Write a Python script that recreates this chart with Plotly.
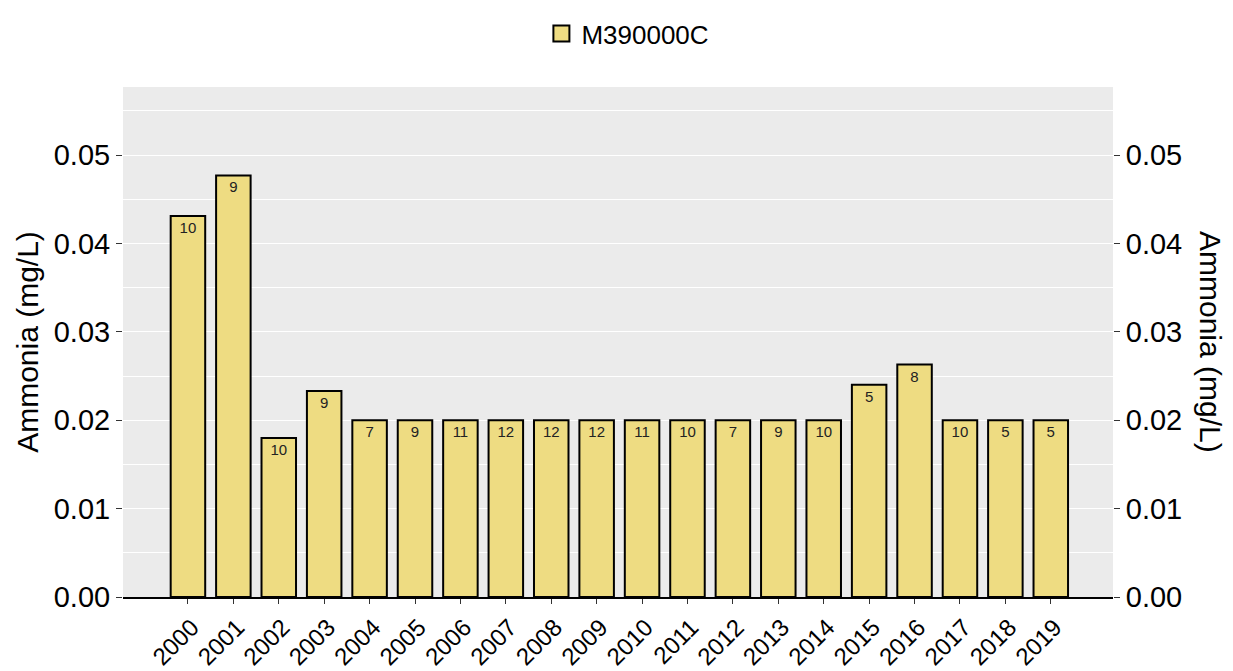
import plotly.graph_objects as go

years = [str(y) for y in range(2000, 2020)]
ammonia = [0.0431, 0.0477, 0.0180, 0.0233, 0.0200, 0.0200, 0.0200, 0.0200, 0.0200, 0.0200,
           0.0200, 0.0200, 0.0200, 0.0200, 0.0200, 0.0240, 0.0263, 0.0200, 0.0200, 0.0200]
counts = [10, 9, 10, 9, 7, 9, 11, 12, 12, 12, 11, 10, 7, 9, 10, 5, 8, 10, 5, 5]
series_name = "M390000C"
y_title = "Ammonia (mg/L)"
y_ticks = [0.0, 0.01, 0.02, 0.03, 0.04, 0.05]
y_ticklabels = ["0.00", "0.01", "0.02", "0.03", "0.04", "0.05"]

FONT = "Liberation Sans, Arial, sans-serif"
YMAX = 0.0577
BAR_COLOR = "#EEDC82"

fig = go.Figure()
fig.add_trace(go.Bar(
    x=years, y=ammonia, name=series_name, showlegend=False,
    marker=dict(color=BAR_COLOR, line=dict(color="black", width=2)),
    width=0.76,
    text=[str(c) for c in counts], textposition="inside", insidetextanchor="end",
    textangle=0, constraintext="none",
    textfont=dict(size=15, color="#222222", family=FONT),
    hoverinfo="x+y",
))
# legend entry with a larger square swatch
fig.add_trace(go.Scatter(
    x=[None], y=[None], name=series_name, mode="markers", showlegend=True,
    marker=dict(symbol="square", size=30, color=BAR_COLOR, line=dict(color="black", width=2)),
))
# invisible trace so that the right axis is drawn
fig.add_trace(go.Scatter(x=years, y=ammonia, yaxis="y2", showlegend=False,
                         mode="markers", marker=dict(opacity=0), hoverinfo="skip"))

fig.update_layout(
    width=1225, height=663,
    margin=dict(l=115, r=120, t=79, b=74, autoexpand=False),
    paper_bgcolor="white", plot_bgcolor="#EBEBEB",
    font=dict(family=FONT, color="black"),
    showlegend=True,
    legend=dict(orientation="h", x=0.51, xanchor="center", y=0.997, yanchor="top",
                yref="container", font=dict(size=26, family=FONT)),
    xaxis=dict(
        type="category", range=[-1.43, 20.37],
        tickangle=-45, tickfont=dict(size=24, family=FONT),
        ticks="outside", ticklen=5, tickcolor="#333333", tickwidth=1.2,
        ticklabelshift=4,
        showgrid=False, showline=True, linecolor="black", linewidth=1.5,
        zeroline=False,
    ),
    yaxis=dict(
        range=[0, YMAX], tickvals=y_ticks, ticktext=y_ticklabels,
        tickfont=dict(size=29, family=FONT),
        ticks="outside", ticklen=6, tickcolor="#333333", tickwidth=1.2,
        showgrid=True, gridcolor="white", gridwidth=1.4,
        minor=dict(dtick=0.005, showgrid=True, gridcolor="white", gridwidth=0.6),
        zeroline=False, showline=False,
        title=dict(text=y_title, font=dict(size=30, family=FONT), standoff=6),
    ),
    yaxis2=dict(
        range=[0, YMAX], tickvals=y_ticks, ticktext=y_ticklabels,
        overlaying="y", side="right",
        tickfont=dict(size=29, family=FONT),
        ticks="outside", ticklen=6, tickcolor="#333333", tickwidth=1.2,
        showgrid=False, zeroline=False, showline=False,
    ),
    annotations=[dict(
        text=y_title, xref="paper", yref="paper", x=1.0, y=0.5,
        xanchor="center", yanchor="middle", xshift=98, textangle=90,
        showarrow=False, font=dict(size=30, family=FONT),
    )],
)

fig.write_html("out.html")
